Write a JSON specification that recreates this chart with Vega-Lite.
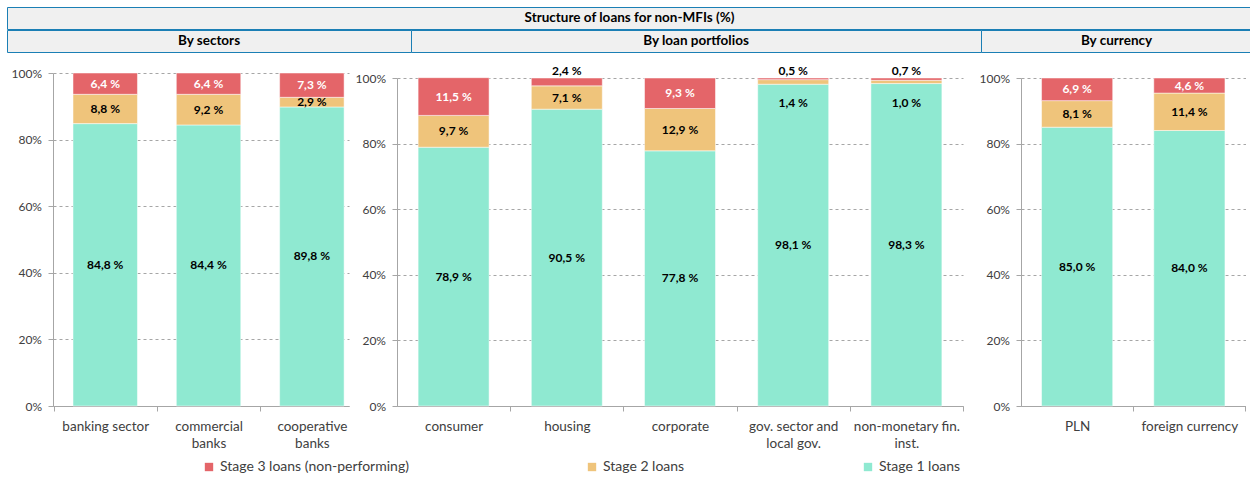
{
  "$schema": "https://vega.github.io/schema/vega-lite/v6.json",
  "padding": {"left": 6, "top": 6, "right": 0, "bottom": 0},
  "background": "white",
  "config": {
    "font": "Lato",
    "view": {"stroke": null},
    "axis": {"labelFont": "Lato", "labelFontSize": 13, "labelColor": "#404040", "domainColor": "#a6a6a6", "tickColor": "#a6a6a6", "title": null, "labelOverlap": false, "labelLimit": 300},
    "axisY": {"grid": true, "gridColor": "#a6a6a6", "gridDash": [3, 3], "tickSize": 5, "labelPadding": 6.5, "labelFontSize": 12},
    "axisX": {"grid": false, "labelAngle": 0, "labelFontSize": 13.5, "tickSize": 5, "labelPadding": 8, "labelLineHeight": 17, "tickExtra": false,
      "labelExpr": "datum.label === 'commercial banks' ? ['commercial', 'banks'] : datum.label === 'cooperative banks' ? ['cooperative', 'banks'] : datum.label === 'gov. sector and local gov.' ? ['gov. sector and', 'local gov.'] : datum.label === 'non-monetary fin. inst.' ? ['non-monetary fin.', 'inst.'] : datum.label"},
    "legend": {"labelFont": "Lato", "labelFontSize": 14, "labelColor": "#404040", "labelLimit": 0, "symbolType": "square", "symbolSize": 70, "symbolStrokeWidth": 0}
  },
  "datasets": {
    "loans": [
      {"g": "sectors", "c": "banking sector", "s": "Stage 1 loans", "v": 84.8},
      {"g": "sectors", "c": "banking sector", "s": "Stage 2 loans", "v": 8.8},
      {"g": "sectors", "c": "banking sector", "s": "Stage 3 loans (non-performing)", "v": 6.4},
      {"g": "sectors", "c": "commercial banks", "s": "Stage 1 loans", "v": 84.4},
      {"g": "sectors", "c": "commercial banks", "s": "Stage 2 loans", "v": 9.2},
      {"g": "sectors", "c": "commercial banks", "s": "Stage 3 loans (non-performing)", "v": 6.4},
      {"g": "sectors", "c": "cooperative banks", "s": "Stage 1 loans", "v": 89.8},
      {"g": "sectors", "c": "cooperative banks", "s": "Stage 2 loans", "v": 2.9},
      {"g": "sectors", "c": "cooperative banks", "s": "Stage 3 loans (non-performing)", "v": 7.3},
      {"g": "portfolios", "c": "consumer", "s": "Stage 1 loans", "v": 78.9},
      {"g": "portfolios", "c": "consumer", "s": "Stage 2 loans", "v": 9.7},
      {"g": "portfolios", "c": "consumer", "s": "Stage 3 loans (non-performing)", "v": 11.5},
      {"g": "portfolios", "c": "housing", "s": "Stage 1 loans", "v": 90.5},
      {"g": "portfolios", "c": "housing", "s": "Stage 2 loans", "v": 7.1},
      {"g": "portfolios", "c": "housing", "s": "Stage 3 loans (non-performing)", "v": 2.4},
      {"g": "portfolios", "c": "corporate", "s": "Stage 1 loans", "v": 77.8},
      {"g": "portfolios", "c": "corporate", "s": "Stage 2 loans", "v": 12.9},
      {"g": "portfolios", "c": "corporate", "s": "Stage 3 loans (non-performing)", "v": 9.3},
      {"g": "portfolios", "c": "gov. sector and local gov.", "s": "Stage 1 loans", "v": 98.1},
      {"g": "portfolios", "c": "gov. sector and local gov.", "s": "Stage 2 loans", "v": 1.4},
      {"g": "portfolios", "c": "gov. sector and local gov.", "s": "Stage 3 loans (non-performing)", "v": 0.5},
      {"g": "portfolios", "c": "non-monetary fin. inst.", "s": "Stage 1 loans", "v": 98.3},
      {"g": "portfolios", "c": "non-monetary fin. inst.", "s": "Stage 2 loans", "v": 1.0},
      {"g": "portfolios", "c": "non-monetary fin. inst.", "s": "Stage 3 loans (non-performing)", "v": 0.7},
      {"g": "currency", "c": "PLN", "s": "Stage 1 loans", "v": 85.0},
      {"g": "currency", "c": "PLN", "s": "Stage 2 loans", "v": 8.1},
      {"g": "currency", "c": "PLN", "s": "Stage 3 loans (non-performing)", "v": 6.9},
      {"g": "currency", "c": "foreign currency", "s": "Stage 1 loans", "v": 84.0},
      {"g": "currency", "c": "foreign currency", "s": "Stage 2 loans", "v": 11.4},
      {"g": "currency", "c": "foreign currency", "s": "Stage 3 loans (non-performing)", "v": 4.6}
    ]
  },
  "spacing": 12,
  "vconcat": [
    {
      "spacing": -1,
      "vconcat": [
        {
          "width": 1245, "height": 22,
          "view": {"fill": "#f0f0f0", "stroke": "#1b7fb5", "strokeWidth": 1},
          "data": {"values": [{"t": "Structure of loans for non-MFIs (%)"}]},
          "mark": {"type": "text", "fontWeight": "bold", "fontSize": 13.5, "color": "#000000"},
          "encoding": {"text": {"field": "t"}}
        },
        {
          "spacing": 0,
          "bounds": "flush",
          "hconcat": [
            {
              "width": 404, "height": 22,
              "view": {"fill": "#f0f0f0", "stroke": "#1b7fb5", "strokeWidth": 1},
              "data": {"values": [{"t": "By sectors"}]},
              "mark": {"type": "text", "fontWeight": "bold", "fontSize": 13.5, "color": "#000000"},
              "encoding": {"text": {"field": "t"}}
            },
            {
              "width": 570, "height": 22,
              "view": {"fill": "#f0f0f0", "stroke": "#1b7fb5", "strokeWidth": 1},
              "data": {"values": [{"t": "By loan portfolios"}]},
              "mark": {"type": "text", "fontWeight": "bold", "fontSize": 13.5, "color": "#000000"},
              "encoding": {"text": {"field": "t"}}
            },
            {
              "width": 271, "height": 22,
              "view": {"fill": "#f0f0f0", "stroke": "#1b7fb5", "strokeWidth": 1},
              "data": {"values": [{"t": "By currency"}]},
              "mark": {"type": "text", "fontWeight": "bold", "fontSize": 13.5, "color": "#000000"},
              "encoding": {"text": {"field": "t"}}
            }
          ]
        }
      ]
    },
    {
      "spacing": 2,
      "hconcat": [
        {
          "width": 1, "height": 1,
          "data": {"values": [{}]},
          "mark": {"type": "text"},
          "encoding": {}
        },
        {
          "width": 296, "height": 333,
          "data": {"name": "loans"},
          "transform": [
            {"filter": "datum.g === 'sectors'"},
            {"calculate": "indexof(['Stage 1 loans', 'Stage 2 loans', 'Stage 3 loans (non-performing)'], datum.s)", "as": "o"},
            {"stack": "v", "groupby": ["c"], "sort": [{"field": "o", "order": "ascending"}], "as": ["y0", "y1"]},
            {"calculate": "(datum.y0 + datum.y1) / 2", "as": "mid"},
            {"calculate": "replace(format(datum.v, '.1f'), '.', ',') + ' %'", "as": "lbl"}
          ],
          "encoding": {
            "x": {"field": "c", "type": "nominal", "title": null, "sort": ["banking sector", "commercial banks", "cooperative banks"],
              "scale": {"paddingInner": 0.376, "paddingOuter": 0.1205, "align": 0.803},
              "axis": {"bandPosition": 0, "tickOffset": -19.4, "labelOffset": 19.4}}
          },
          "layer": [
            {
              "mark": {"type": "bar", "stroke": "#ffffff", "strokeWidth": 0.5},
              "encoding": {
                "y": {"field": "y0", "type": "quantitative", "title": null, "scale": {"domain": [0, 100]},
                  "axis": {"values": [0, 20, 40, 60, 80, 100], "labelExpr": "datum.value + '%'", "minExtent": 43}},
                "y2": {"field": "y1"},
                "color": {"field": "s", "type": "nominal",
                  "scale": {"domain": ["Stage 3 loans (non-performing)", "Stage 2 loans", "Stage 1 loans"], "range": ["#e46569", "#efc47b", "#8fe9d1"]},
                  "legend": {"title": null, "orient": "none", "legendX": 195, "legendY": 453, "direction": "horizontal", "columns": 3, "columnPadding": 176}}
              }
            },
            {
              "transform": [{"filter": "!(datum.o === 2 && datum.v < 3) && !(datum.o === 1 && datum.v < 2)"}],
              "mark": {"type": "text", "fontWeight": "bold", "fontSize": 12},
              "encoding": {
                "y": {"field": "mid", "type": "quantitative", "title": null},
                "text": {"field": "lbl"},
                "color": {"condition": {"test": "datum.o === 2", "value": "#ffffff"}, "value": "#000000"}
              }
            }
          ]
        },
        {
          "width": 575.5, "height": 333,
          "data": {"name": "loans"},
          "transform": [
            {"filter": "datum.g === 'portfolios'"},
            {"calculate": "indexof(['Stage 1 loans', 'Stage 2 loans', 'Stage 3 loans (non-performing)'], datum.s)", "as": "o"},
            {"stack": "v", "groupby": ["c"], "sort": [{"field": "o", "order": "ascending"}], "as": ["y0", "y1"]},
            {"calculate": "(datum.y0 + datum.y1) / 2", "as": "mid"},
            {"calculate": "replace(format(datum.v, '.1f'), '.', ',') + ' %'", "as": "lbl"}
          ],
          "encoding": {
            "x": {"field": "c", "type": "nominal", "title": null, "sort": ["consumer", "housing", "corporate", "gov. sector and local gov.", "non-monetary fin. inst."],
              "scale": {"range": [0, 566], "paddingInner": 0.373, "paddingOuter": 0.1865},
              "axis": {"bandPosition": 1, "tickOffset": 21.1, "labelOffset": -21.1}}
          },
          "layer": [
            {
              "mark": {"type": "bar", "stroke": "#ffffff", "strokeWidth": 0.5},
              "encoding": {
                "y": {"field": "y0", "type": "quantitative", "title": null, "scale": {"domain": [0, 100], "range": [333, 5]},
                  "axis": {"values": [0, 20, 40, 60, 80, 100], "labelExpr": "datum.value + '%'", "minExtent": 46}},
                "y2": {"field": "y1"},
                "color": {"field": "s", "type": "nominal",
                  "scale": {"domain": ["Stage 3 loans (non-performing)", "Stage 2 loans", "Stage 1 loans"], "range": ["#e46569", "#efc47b", "#8fe9d1"]},
                  "legend": {"title": null, "orient": "none", "legendX": 195, "legendY": 453, "direction": "horizontal", "columns": 3, "columnPadding": 176}}
              }
            },
            {
              "transform": [{"filter": "!(datum.o === 2 && datum.v < 3) && !(datum.o === 1 && datum.v < 2)"}],
              "mark": {"type": "text", "fontWeight": "bold", "fontSize": 12},
              "encoding": {
                "y": {"field": "mid", "type": "quantitative", "title": null},
                "text": {"field": "lbl"},
                "color": {"condition": {"test": "datum.o === 2", "value": "#ffffff"}, "value": "#000000"}
              }
            },
            {
              "transform": [{"filter": "datum.o === 2 && datum.v < 3"}],
              "mark": {"type": "text", "fontWeight": "bold", "fontSize": 12, "dy": -7, "color": "#000000"},
              "encoding": {
                "y": {"field": "y1", "type": "quantitative", "title": null},
                "text": {"field": "lbl"}
              }
            },
            {
              "transform": [{"filter": "datum.o === 1 && datum.v < 2"}],
              "mark": {"type": "text", "fontWeight": "bold", "fontSize": 12, "dy": 23, "color": "#000000"},
              "encoding": {
                "y": {"field": "y1", "type": "quantitative", "title": null},
                "text": {"field": "lbl"}
              }
            }
          ]
        },
        {
          "width": 224.5, "height": 333,
          "data": {"name": "loans"},
          "transform": [
            {"filter": "datum.g === 'currency'"},
            {"calculate": "indexof(['Stage 1 loans', 'Stage 2 loans', 'Stage 3 loans (non-performing)'], datum.s)", "as": "o"},
            {"stack": "v", "groupby": ["c"], "sort": [{"field": "o", "order": "ascending"}], "as": ["y0", "y1"]},
            {"calculate": "(datum.y0 + datum.y1) / 2", "as": "mid"},
            {"calculate": "replace(format(datum.v, '.1f'), '.', ',') + ' %'", "as": "lbl"}
          ],
          "encoding": {
            "x": {"field": "c", "type": "nominal", "title": null, "sort": ["PLN", "foreign currency"],
              "scale": {"paddingInner": 0.366, "paddingOuter": 0.183},
              "axis": {"bandPosition": 1, "tickOffset": 20.5, "labelOffset": -20.5}}
          },
          "layer": [
            {
              "mark": {"type": "bar", "stroke": "#ffffff", "strokeWidth": 0.5},
              "encoding": {
                "y": {"field": "y0", "type": "quantitative", "title": null, "scale": {"domain": [0, 100], "range": [333, 5]},
                  "axis": {"values": [0, 20, 40, 60, 80, 100], "labelExpr": "datum.value + '%'", "minExtent": 46}},
                "y2": {"field": "y1"},
                "color": {"field": "s", "type": "nominal",
                  "scale": {"domain": ["Stage 3 loans (non-performing)", "Stage 2 loans", "Stage 1 loans"], "range": ["#e46569", "#efc47b", "#8fe9d1"]},
                  "legend": {"title": null, "orient": "none", "legendX": 195, "legendY": 453, "direction": "horizontal", "columns": 3, "columnPadding": 176}}
              }
            },
            {
              "mark": {"type": "text", "fontWeight": "bold", "fontSize": 12},
              "encoding": {
                "y": {"field": "mid", "type": "quantitative", "title": null},
                "text": {"field": "lbl"},
                "color": {"condition": {"test": "datum.o === 2", "value": "#ffffff"}, "value": "#000000"}
              }
            }
          ]
        }
      ]
    }
  ]
}
